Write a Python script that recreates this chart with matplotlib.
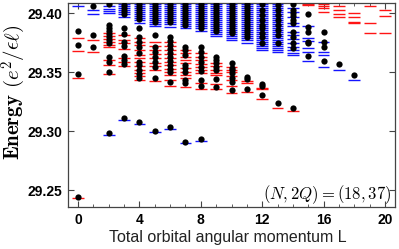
import matplotlib
matplotlib.use("Agg")
import matplotlib.pyplot as plt
from matplotlib.ticker import MultipleLocator

# energy levels (e^2/eps l) per total angular momentum L
blue_levels = {
    0: [29.4062],
    1: [29.4025, 29.3991],
    2: [29.4059, 29.4038, 29.4021, 29.4004, 29.2967],
    3: [29.4076, 29.4059, 29.4042, 29.4025, 29.4008, 29.3991, 29.3970, 29.3094],
    4: [29.4076, 29.4059, 29.4042, 29.4025, 29.4008, 29.3991, 29.3974, 29.3958,
        29.3941, 29.3919, 29.3060],
    5: [29.4076, 29.4059, 29.4042, 29.4025, 29.4008, 29.3991, 29.3974, 29.3958,
        29.3941, 29.3924, 29.3907, 29.3890, 29.2992],
    6: [29.4076, 29.4059, 29.4042, 29.4025, 29.4008, 29.3991, 29.3974, 29.3958,
        29.3941, 29.3924, 29.3907, 29.3881, 29.3017],
    7: [29.4076, 29.4059, 29.4042, 29.4025, 29.4008, 29.3991, 29.3974, 29.3958,
        29.3941, 29.3924, 29.3907, 29.3890, 29.3873, 29.2895],
    8: [29.4076, 29.4059, 29.4042, 29.4025, 29.4008, 29.3991, 29.3974, 29.3958,
        29.3941, 29.3924, 29.3907, 29.3890, 29.3869, 29.3847, 29.2918],
    9: [29.4076, 29.4059, 29.4042, 29.4025, 29.4008, 29.3991, 29.3974, 29.3958,
        29.3941, 29.3924, 29.3907, 29.3890, 29.3873, 29.3856, 29.3839, 29.3822,
        29.3805],
    10: [29.4076, 29.4059, 29.4042, 29.4025, 29.4008, 29.3991, 29.3974, 29.3958,
         29.3941, 29.3924, 29.3907, 29.3890, 29.3873, 29.3856, 29.3839, 29.3822,
         29.3805, 29.3788, 29.3771],
    11: [29.4076, 29.4059, 29.4042, 29.4025, 29.4008, 29.3991, 29.3974, 29.3958,
         29.3941, 29.3924, 29.3907, 29.3890, 29.3873, 29.3856, 29.3839, 29.3822,
         29.3805, 29.3788, 29.3771, 29.3746],
    12: [29.4076, 29.4059, 29.4042, 29.4025, 29.4008, 29.3991, 29.3974, 29.3958,
         29.3941, 29.3924, 29.3907, 29.3890, 29.3873, 29.3856, 29.3839, 29.3822,
         29.3805, 29.3788, 29.3771, 29.3754, 29.3737, 29.3720, 29.3703, 29.3687],
    13: [29.4076, 29.4059, 29.4042, 29.4025, 29.4008, 29.3991, 29.3974, 29.3958,
         29.3941, 29.3924, 29.3907, 29.3890, 29.3873, 29.3856, 29.3839, 29.3822,
         29.3805, 29.3788, 29.3771, 29.3754, 29.3737, 29.3720, 29.3703, 29.3687,
         29.3670],
    14: [29.4042, 29.4008, 29.3966, 29.3915, 29.3890, 29.3839, 29.3814, 29.3780,
         29.3746, 29.3712, 29.3687, 29.3661, 29.3644],
    15: [29.3890, 29.3786, 29.3765, 29.3701, 29.3672, 29.3593],
    16: [29.3757, 29.3672, 29.3644, 29.3545],
    17: [29.3517],
    18: [29.3435],
}

red_levels = {
    0: [29.3786, 29.3681, 29.3447, 29.2436],
    1: [29.3771, 29.3672],
    2: [29.3830, 29.3805, 29.3780, 29.3754, 29.3729, 29.3712, 29.3602, 29.3559, 29.3483],
    3: [29.3814, 29.3771, 29.3746, 29.3695, 29.3619, 29.3585, 29.3551],
    4: [29.3788, 29.3754, 29.3729, 29.3687, 29.3644, 29.3619, 29.3585, 29.3551,
        29.3517, 29.3492, 29.3466, 29.3432],
    5: [29.3754, 29.3720, 29.3687, 29.3653, 29.3619, 29.3576, 29.3551, 29.3517, 29.3424],
    6: [29.3754, 29.3720, 29.3687, 29.3653, 29.3619, 29.3585, 29.3559, 29.3526,
        29.3500, 29.3475, 29.3432, 29.3382],
    7: [29.3687, 29.3661, 29.3627, 29.3602, 29.3576, 29.3534, 29.3500, 29.3475,
        29.3449, 29.3373],
    8: [29.3661, 29.3627, 29.3602, 29.3568, 29.3543, 29.3517, 29.3492, 29.3407, 29.3356],
    9: [29.3576, 29.3551, 29.3517, 29.3492, 29.3475, 29.3399, 29.3356],
    10: [29.3543, 29.3517, 29.3500, 29.3466, 29.3432, 29.3382, 29.3322],
    11: [29.3424, 29.3407, 29.3331],
    12: [29.3365, 29.3352, 29.3271],
    13: [29.3198],
    14: [29.3170],
    15: [29.4076, 29.4068],
    16: [29.4076, 29.4059, 29.4040, 29.4011],
    17: [29.4059, 29.4025, 29.3991, 29.3963],
    18: [29.3997, 29.3963, 29.3926, 29.3918],
    19: [29.4059, 29.3918, 29.3828],
    20: [29.4025, 29.3974, 29.3828],
}

exact_energies = {
    0: [29.3847, 29.3729, 29.3483, 29.2439],
    1: [29.4059, 29.3814, 29.3714],
    2: [29.4076, 29.3898, 29.3873, 29.3847, 29.3822, 29.3797, 29.3771, 29.3746,
        29.3627, 29.3585, 29.3504, 29.2984],
    3: [29.4068, 29.4042, 29.4017, 29.3991, 29.3873, 29.3822, 29.3754, 29.3720,
        29.3636, 29.3602, 29.3568, 29.3113],
    4: [29.4076, 29.4051, 29.4025, 29.4000, 29.3974, 29.3949, 29.3873, 29.3797,
        29.3754, 29.3712, 29.3661, 29.3585, 29.3559, 29.3517, 29.3483, 29.3449, 29.3074],
    5: [29.4076, 29.4051, 29.4025, 29.4000, 29.3974, 29.3949, 29.3924, 29.3814,
        29.3712, 29.3670, 29.3627, 29.3585, 29.3543, 29.3449, 29.3003],
    6: [29.4076, 29.4051, 29.4025, 29.4000, 29.3974, 29.3949, 29.3924, 29.3797,
        29.3763, 29.3729, 29.3695, 29.3661, 29.3627, 29.3593, 29.3559, 29.3526,
        29.3500, 29.3416, 29.3034],
    7: [29.4076, 29.4051, 29.4025, 29.4000, 29.3974, 29.3949, 29.3924, 29.3898,
        29.3712, 29.3687, 29.3644, 29.3559, 29.3534, 29.3500, 29.3432, 29.3407, 29.2905],
    8: [29.4076, 29.4051, 29.4025, 29.4000, 29.3974, 29.3949, 29.3924, 29.3898,
        29.3873, 29.3712, 29.3670, 29.3627, 29.3585, 29.3543, 29.3509, 29.3432,
        29.3382, 29.2931],
    9: [29.4076, 29.4051, 29.4025, 29.4000, 29.3974, 29.3949, 29.3924, 29.3898,
        29.3873, 29.3847, 29.3627, 29.3602, 29.3576, 29.3543, 29.3517, 29.3441, 29.3373],
    10: [29.4076, 29.4051, 29.4025, 29.4000, 29.3974, 29.3949, 29.3924, 29.3898,
         29.3873, 29.3847, 29.3830, 29.3576, 29.3534, 29.3517, 29.3492, 29.3449,
         29.3416, 29.3348],
    11: [29.4076, 29.4051, 29.4025, 29.4000, 29.3974, 29.3949, 29.3924, 29.3898,
         29.3873, 29.3847, 29.3822, 29.3797, 29.3458, 29.3441, 29.3356],
    12: [29.4076, 29.4025, 29.3983, 29.3941, 29.3898, 29.3873, 29.3830, 29.3797,
         29.3746, 29.3399, 29.3382, 29.3305],
    13: [29.4068, 29.4025, 29.3983, 29.3941, 29.3898, 29.3856, 29.3814, 29.3746, 29.3235],
    14: [29.4076, 29.4025, 29.4000, 29.3974, 29.3941, 29.3915, 29.3839, 29.3797,
         29.3746, 29.3703, 29.3198],
    15: [29.3989, 29.3884, 29.3842, 29.3757, 29.3743, 29.3636],
    16: [29.3842, 29.3757, 29.3714, 29.3596],
    17: [29.3565],
    18: [29.3479],
}

x_ticks = [0, 4, 8, 12, 16, 20]
y_ticks = [29.25, 29.30, 29.35, 29.40]

plt.rcParams["mathtext.fontset"] = "cm"

fig = plt.figure(figsize=(3.99, 2.49), dpi=100)
ax = fig.add_axes([68 / 399, 1 - 207 / 249, 327 / 399, 204 / 249])

half = 0.38
for L, levels in blue_levels.items():
    ax.hlines(levels, L - half, L + half, colors="#1414ff", linewidth=1.0, zorder=2)
for L, levels in red_levels.items():
    ax.hlines(levels, L - half, L + half, colors="#ff1414", linewidth=1.0, zorder=2)
for L, levels in exact_energies.items():
    ax.plot([L] * len(levels), levels, "o", color="black", markersize=4.5,
            markeredgewidth=0, zorder=3)

ax.set_xlim(-0.65, 20.65)
ax.set_ylim(29.2356, 29.4085)
ax.set_xticks(x_ticks)
ax.set_yticks(y_ticks)
ax.set_yticklabels(["%.2f" % v for v in y_ticks])
ax.xaxis.set_minor_locator(MultipleLocator(1))

ax.tick_params(which="both", direction="in", top=True, right=True, color="#444444")
ax.tick_params(which="major", length=4, width=0.8, pad=4)
ax.tick_params(which="minor", length=2, width=0.6)
for lab in ax.get_xticklabels() + ax.get_yticklabels():
    lab.set_fontfamily("Liberation Sans")
    lab.set_fontweight("bold")
    lab.set_fontsize(10)
for sp in ax.spines.values():
    sp.set_color("#444444")
    sp.set_linewidth(0.9)

ax.set_xlabel("Total orbital angular momentum L", fontfamily="Liberation Sans",
              fontsize=11.5, color="#222222")
ax.xaxis.set_label_coords(0.49, -0.115)
ax.set_ylabel(r"Energy $(e^2/\epsilon\ell)$", fontfamily="cmb10", fontsize=15)
ax.yaxis.set_label_coords(-0.122, 0.56)

ax.text(0.99, 0.06, r"$(N,2Q)=(18,37)$", transform=ax.transAxes,
        ha="right", va="center", fontsize=12)

fig.savefig("out.png", dpi=100)
